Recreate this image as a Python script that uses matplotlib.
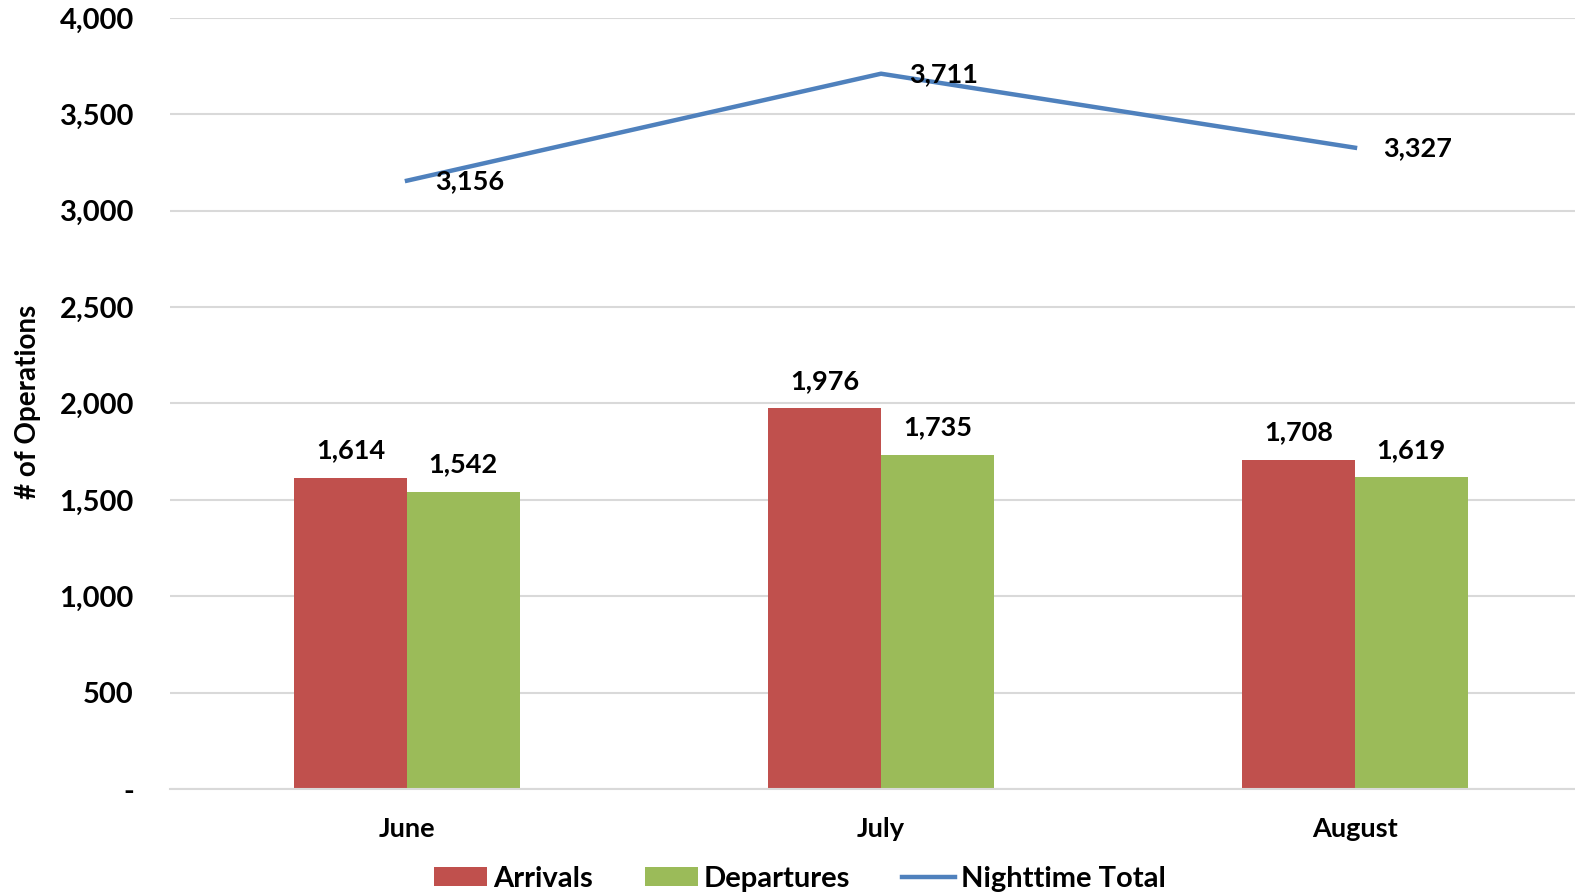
import numpy as np
import matplotlib
matplotlib.use("Agg")
import matplotlib.pyplot as plt
from matplotlib.ticker import FuncFormatter

plt.rcParams['font.family'] = ['Lato', 'DejaVu Sans']
plt.rcParams['font.weight'] = 'bold'

months = ["June", "July", "August"]
arrivals = [1614, 1976, 1708]
departures = [1542, 1735, 1619]
nighttime_total = [3156, 3711, 3327]

red = '#C0504D'
green = '#9BBB59'
blue = '#4F81BD'
grid = '#D9D9D9'

W, H = 1575, 896
fig = plt.figure(figsize=(W / 100, H / 100), dpi=100)
# plot area in pixels: left 170, right 1592 (runs past the edge), top 18, bottom 789
ax = fig.add_axes([170 / W, (H - 789) / H, 1422 / W, (789 - 18) / H])

x = np.arange(len(months))
w = 0.238
b1 = ax.bar(x - w / 2, arrivals, w, color=red, label='Arrivals', zorder=2)
b2 = ax.bar(x + w / 2, departures, w, color=green, label='Departures', zorder=2)
ln, = ax.plot(x, nighttime_total, color=blue, lw=3.2, label='Nighttime Total', zorder=3)

fmt = lambda v: f"{v:,.0f}"
ax.bar_label(b1, labels=[fmt(v) for v in arrivals], padding=11, fontsize=19.5, fontweight='bold')
ax.bar_label(b2, labels=[fmt(v) for v in departures], padding=11, fontsize=19.5, fontweight='bold')
for xi, v in zip(x, nighttime_total):
    ax.annotate(fmt(v), (xi, v), xytext=(20, 0), textcoords='offset points',
                ha='left', va='center', fontsize=19.5, fontweight='bold', zorder=4)

ax.set_xlim(-0.5, 2.5)
ax.set_ylim(0, 4000)
ax.set_yticks(np.arange(0, 4001, 500))
ax.yaxis.set_major_formatter(FuncFormatter(lambda v, p: '-' if v == 0 else f"{v:,.0f}"))
ax.set_xticks(x)
ax.set_xticklabels(months)
ax.tick_params(axis='y', length=0, pad=26, labelsize=21)
ax.tick_params(axis='x', length=0, pad=20, labelsize=19.5)
for lbl in ax.get_xticklabels() + ax.get_yticklabels():
    lbl.set_fontweight('bold')

ax.grid(axis='y', color=grid, lw=1.5, zorder=0)
for s in ['top', 'right', 'left']:
    ax.spines[s].set_visible(False)
ax.spines['bottom'].set_color(grid)
ax.spines['bottom'].set_linewidth(1.5)

fig.text(28 / W, 1 - 402 / H, '# of Operations', rotation=90, ha='center', va='center',
         fontsize=20, fontweight='bold')

fig.legend(handles=[b1, b2, ln], loc='center', bbox_to_anchor=(800 / W, 1 - 879 / H),
           ncol=3, frameon=False, fontsize=21, handlelength=1.8, handleheight=0.6,
           handletextpad=0.2, columnspacing=1.8, borderpad=0)

fig.savefig('out.png', dpi=100)
